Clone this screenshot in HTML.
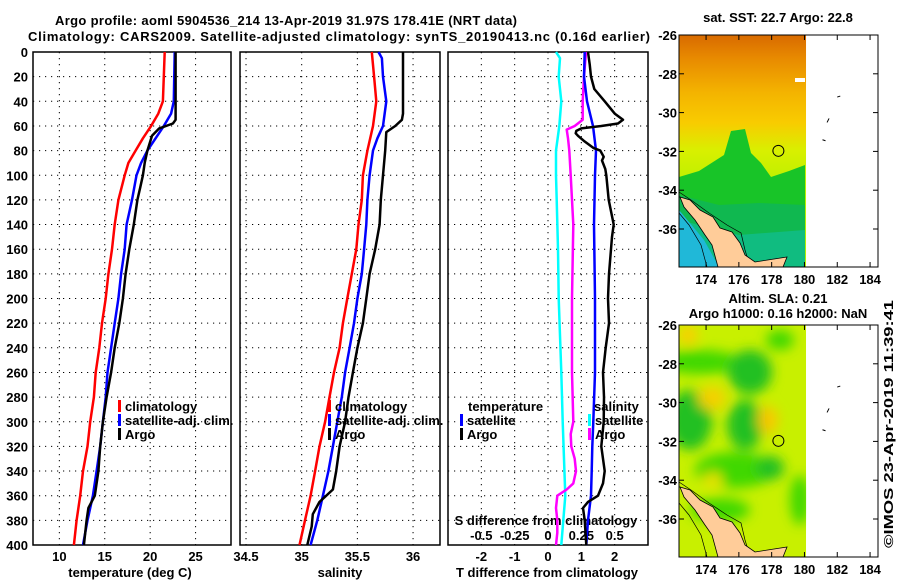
<!DOCTYPE html>
<html><head><meta charset="utf-8"><style>
html,body{margin:0;padding:0;background:#fff}
svg{display:block;font-family:"Liberation Sans",Arial,sans-serif;font-weight:bold}
text{font-size:13px;fill:#000}
</style></head><body>
<svg id="s" width="900" height="580" viewBox="0 0 900 580" xmlns="http://www.w3.org/2000/svg">
<text x="286" y="25" text-anchor="middle" textLength="462">Argo profile: aoml 5904536_214 13-Apr-2019 31.97S 178.41E (NRT data)</text>
<text x="339" y="41" text-anchor="middle" textLength="622">Climatology: CARS2009. Satellite-adjusted climatology: synTS_20190413.nc (0.16d earlier)</text>
<g id="p1"></g>
<g id="p2"></g>
<g id="p3"></g>
<g id="m1"></g>
<g id="m2"></g>
<text x="0" y="0" transform="translate(893,424) rotate(-90)" text-anchor="middle" textLength="248" lengthAdjust="spacingAndGlyphs">©IMOS 23-Apr-2019 11:39:41</text>
</svg>
<script>
// ---- data ----
const depthTicks=[0,20,40,60,80,100,120,140,160,180,200,220,240,260,280,300,320,340,360,380,400];
const tTicks=[10,15,20,25];
const sTicks=[34.5,35,35.5,36];
const sTickLabels=["34.5","35","35.5","36"];
const dTicks=[-2,-1,0,1,2];
const sdTicks=[-0.5,-0.25,0,0.25,0.5];
const sdTickLabels=["-0.5","-0.25","0","0.25","0.5"];

const tClimDepth=[0,40,50,60,70,80,90,100,120,140,160,180,200,220,240,260,280,300,320,340,360,380,400];
const tClim=[21.6,21.4,20.9,20.1,19.2,18.4,17.6,17.2,16.5,16.1,15.8,15.4,15.1,14.7,14.4,14.0,13.8,13.4,13.1,12.6,12.3,11.9,11.6];
const tSatDepth=[0,40,50,60,70,80,90,100,120,140,160,180,200,220,240,260,280,300,320,340,360,380,400];
const tSat=[22.7,22.6,22.3,21.5,20.6,19.7,19.0,18.5,18.0,17.4,17.2,16.8,16.5,16.1,15.7,15.3,15.1,14.8,14.5,14.1,13.7,13.1,12.6];
const tArgoDepth=[0,55,58,62,68,80,90,100,110,120,140,160,180,200,220,240,260,280,300,320,340,360,370,380,400];
const tArgo=[22.8,22.8,22.5,21.0,20.2,19.7,19.4,19.2,18.9,18.6,18.2,17.7,17.3,17.0,16.6,16.1,15.7,15.2,14.8,14.5,14.3,13.9,13.2,13.0,12.7];

const sClimDepth=[0,20,40,60,80,100,120,140,160,180,200,220,240,260,280,300,320,340,360,380,400];
const sClim=[35.63,35.65,35.67,35.64,35.59,35.55,35.54,35.51,35.49,35.45,35.41,35.37,35.34,35.29,35.25,35.21,35.16,35.12,35.08,35.03,34.98];
const sSatDepth=[0,5,20,40,60,70,80,100,120,140,160,180,200,220,240,260,280,300,320,340,360,380,400];
const sSat=[35.69,35.72,35.73,35.76,35.73,35.68,35.64,35.61,35.59,35.58,35.56,35.54,35.50,35.47,35.43,35.39,35.36,35.32,35.28,35.24,35.19,35.14,35.08];
const sArgoDepth=[0,50,55,60,65,80,100,120,140,160,180,200,220,240,260,280,300,320,340,355,365,375,385,400];
const sArgo=[35.91,35.91,35.90,35.84,35.76,35.75,35.73,35.71,35.70,35.66,35.61,35.58,35.55,35.50,35.46,35.42,35.39,35.34,35.31,35.28,35.16,35.10,35.09,35.05];

const dtSatDepth=[0,20,40,60,80,100,140,200,260,300,320,340,360,380,400];
const dtSat=[1.10,1.08,1.17,1.35,1.44,1.41,1.38,1.41,1.41,1.36,1.33,1.31,1.29,1.20,1.15];
const dtArgoDepth=[0,10,20,30,40,50,55,58,60,62,64,66,68,72,78,80,85,88,95,100,120,140,150,160,180,200,220,240,260,280,300,320,340,350,360,365,370,380,400];
const dtArgo=[1.2,1.25,1.29,1.39,1.7,2.0,2.25,2.1,1.6,1.0,0.85,0.83,0.9,1.07,1.37,1.57,1.67,1.62,1.72,1.75,1.82,1.97,1.92,1.89,1.83,1.8,1.83,1.73,1.65,1.68,1.67,1.6,1.7,1.65,1.5,1.2,1.05,1.1,1.15];
const dsSatDepth=[0,5,20,40,60,80,100,120,160,200,260,300,360,400];
const dsSat=[0.06,0.09,0.08,0.10,0.085,0.06,0.06,0.065,0.075,0.08,0.10,0.11,0.13,0.10];
const dsArgoDepth=[0,20,40,55,60,63,70,80,100,120,140,200,260,300,310,320,330,340,350,355,360,370,380,390,400];
const dsArgo=[0.285,0.27,0.26,0.26,0.2,0.14,0.15,0.16,0.17,0.18,0.19,0.18,0.18,0.19,0.17,0.175,0.2,0.21,0.19,0.14,0.07,0.06,0.07,0.07,0.06];

const mapLatTicks=[-26,-28,-30,-32,-34,-36];
const mapLatLabels=["-26","-28","-30","-32","-34","-36"];
const mapLonTicks=[174,176,178,180,182,184];
const argoLon=178.41, argoLat=-31.97;

// ---- helpers ----
const NS="http://www.w3.org/2000/svg";
function mk(parent,tag,attrs,txt){const e=document.createElementNS(NS,tag);for(const k in attrs)e.setAttribute(k,attrs[k]);if(txt!==undefined)e.textContent=txt;parent.appendChild(e);return e;}
const Y0=52,Y1=545;
const yD=d=>Y0+(d/400)*(Y1-Y0);

function panel(g,x0,x1,vmin,vmax,vticks){
  const xs=v=>x0+(v-vmin)/(vmax-vmin)*(x1-x0);
  depthTicks.forEach(d=>{if(d>0&&d<400){const l=mk(g,'line',{x1:x0,x2:x1,y1:yD(d),y2:yD(d),stroke:'#000','stroke-width':1,'stroke-dasharray':'1.2,4.8'});
  
  }});
  vticks.forEach(v=>{const l=mk(g,'line',{x1:xs(v),x2:xs(v),y1:Y0,y2:Y1,stroke:'#000','stroke-width':1,'stroke-dasharray':'1.2,4.8'});
  
  });
  const r=mk(g,'rect',{x:x0,y:Y0,width:x1-x0,height:Y1-Y0,fill:'none',stroke:'#000','stroke-width':1.5});
  
  
  return xs;
}
function line(g,xs,depths,vals,color,name,w){
  const d=vals.map((v,i)=>(i?'L':'M')+xs(v).toFixed(1)+','+yD(depths[i]).toFixed(1)).join('');
  const p=mk(g,'path',{d:d,fill:'none',stroke:color,'stroke-width':w||2.5,'stroke-linejoin':'round'});
  
  
}
function txt(g,x,y,s,anchor,name){const t=mk(g,'text',{x:x,y:y,'text-anchor':anchor||'middle'},s);
  
  return t;}
function legbar(g,x,y,color){const r=mk(g,'rect',{x:x,y:y-11,width:3,height:12,fill:color});
  
  }

// panel 1
const g1=document.getElementById('p1');
const xT=panel(g1,33,231,7.1,28.9,tTicks);
depthTicks.forEach(d=>txt(g1,28,yD(d)+5,String(d),'end','depth-tick-label'));
tTicks.forEach(v=>txt(g1,xT(v),561,String(v),'middle','temp-tick-label'));
txt(g1,130,577,'temperature (deg C)','middle','x-axis-title-temperature');
line(g1,xT,tClimDepth,tClim,'#f00','temp-climatology-line');
line(g1,xT,tSatDepth,tSat,'#00f','temp-satellite-line');
line(g1,xT,tArgoDepth,tArgo,'#000','temp-argo-line');
legbar(g1,118,411,'#f00');txt(g1,125,411,'climatology','start','legend-climatology');
legbar(g1,118,425,'#00f');txt(g1,125,425,'satellite-adj. clim.','start','legend-satellite');
legbar(g1,118,439,'#000');txt(g1,125,439,'Argo','start','legend-argo');

// panel 2
const g2=document.getElementById('p2');
const xS=panel(g2,240,440,34.446,36.242,sTicks);
sTicks.forEach((v,i)=>txt(g2,xS(v),561,sTickLabels[i],'middle','salinity-tick-label'));
txt(g2,340,577,'salinity','middle','x-axis-title-salinity');
line(g2,xS,sClimDepth,sClim,'#f00','sal-climatology-line');
line(g2,xS,sSatDepth,sSat,'#00f','sal-satellite-line');
line(g2,xS,sArgoDepth,sArgo,'#000','sal-argo-line');
legbar(g2,328,411,'#f00');txt(g2,335,411,'climatology','start','legend-climatology');
legbar(g2,328,425,'#00f');txt(g2,335,425,'satellite-adj. clim.','start','legend-satellite');
legbar(g2,328,439,'#000');txt(g2,335,439,'Argo','start','legend-argo');

// panel 3
const g3=document.getElementById('p3');
const xDT=panel(g3,448,648,-3,3,dTicks);
const xDS=v=>448+(v+0.75)/1.5*200;
dTicks.forEach(v=>txt(g3,xDT(v),561,String(v),'middle','tdiff-tick-label'));
txt(g3,547,577,'T difference from climatology','middle','x-axis-title-tdiff');
txt(g3,546,525,'S difference from climatology','middle','s-axis-title');
sdTicks.forEach((v,i)=>txt(g3,xDS(v),540,sdTickLabels[i],'middle','sdiff-tick-label'));
line(g3,xDS,dsSatDepth,dsSat,'#0ff','sdiff-satellite-line');
line(g3,xDS,dsArgoDepth,dsArgo,'#f0f','sdiff-argo-line');
line(g3,xDT,dtSatDepth,dtSat,'#00f','tdiff-satellite-line');
line(g3,xDT,dtArgoDepth,dtArgo,'#000','tdiff-argo-line');
txt(g3,468,411,'temperature','start','legend-temperature-heading');
legbar(g3,460,425,'#00f');txt(g3,467,425,'satellite','start','legend-t-satellite');
legbar(g3,460,439,'#000');txt(g3,467,439,'Argo','start','legend-t-argo');
txt(g3,594,411,'salinity','start','legend-salinity-heading');
legbar(g3,588,425,'#0ff');txt(g3,595,425,'satellite','start','legend-s-satellite');
legbar(g3,588,439,'#f0f');txt(g3,595,439,'Argo','start','legend-s-argo');

// maps
function map(g,top,kind){
  const L=679,R=878,bot=top+232;
  const lx=v=>L+(v-172.35)*16.4;
  const ly=v=>top+(-26-v)*19.4;
  const id='clip'+kind;
  const defs=mk(g,'defs',{});
  const cp=mk(defs,'clipPath',{id:id});mk(cp,'rect',{x:L,y:top,width:lx(180.1)-L,height:bot-top});
  const bl=mk(defs,'filter',{id:'bl'+kind,x:'-50%',y:'-50%',width:'200%',height:'200%'});mk(bl,'feGaussianBlur',{stdDeviation:6});
  const f=mk(g,'g',{'clip-path':'url(#'+id+')'});
  
  
  const W=lx(180.1)-L;
  if(kind==='sst'){
    const lg=mk(defs,'linearGradient',{id:'gs',x1:0,y1:0,x2:0,y2:1});
    [[0,'#d86a00'],[0.1,'#e88a00'],[0.25,'#f4b400'],[0.38,'#f8cc00'],[0.5,'#d8f000'],[0.62,'#c0f000'],[1,'#b0f000']].forEach(s=>mk(lg,'stop',{offset:s[0],'stop-color':s[1]}));
    mk(f,'rect',{x:L,y:top,width:W,height:bot-top,fill:'url(#gs)'});
    mk(f,'path',{d:`M${L},${top+142} L${L+20},${top+136} L${L+45},${top+120} L${L+52},${top+96} L${L+66},${top+94} L${L+72},${top+118} L${L+82},${top+128} L${L+92},${top+142} L${L+110},${top+136} L${L+126},${top+130} L${L+126},${bot} L${L},${bot} Z`,fill:'#18c428'});
    mk(f,'path',{d:`M${L},${top+160} L${L+40},${top+170} L${L+80},${top+168} L${L+126},${top+170} L${L+126},${bot} L${L},${bot} Z`,fill:'#10b850'});
    mk(f,'path',{d:`M${L},${top+185} L${L+60},${top+200} L${L+126},${top+195} L${L+126},${bot} L${L},${bot} Z`,fill:'#10bc80'});
    mk(f,'path',{d:`M${L},${top+175} L${L+25},${top+205} L${L+40},${bot} L${L},${bot} Z`,fill:'#20b8d8'});
    mk(f,'rect',{x:L+116,y:top+43,width:10,height:4,fill:'#fff'});
  }else{
    mk(f,'rect',{x:L,y:top,width:W,height:bot-top,fill:'#c8f000'});
    const g2=mk(f,'g',{filter:'url(#bl'+kind+')'});
    [[700,362,40,12,'#40d800'],[750,372,22,22,'#20c020'],[690,420,22,30,'#20c020'],[745,425,18,25,'#20c020'],[735,470,40,18,'#40d800'],[770,468,14,12,'#20c020'],[800,500,10,25,'#40d800'],[720,510,30,12,'#40d800'],[780,340,14,10,'#40d800']].forEach(b=>mk(g2,'ellipse',{cx:b[0],cy:b[1]-325+top,rx:b[2],ry:b[3],fill:b[4]}));
    [[688,335,10,10,'#f8d000'],[712,398,14,12,'#f4d000'],[768,420,10,14,'#f8c800'],[713,480,10,8,'#e8e000']].forEach(b=>mk(g2,'ellipse',{cx:b[0],cy:b[1]-325+top,rx:b[2],ry:b[3],fill:b[4]}));
  }
  // coastal contours
  mk(f,'path',{d:`M${L},${top+157} L${L+12},${top+165} L${L+30},${top+178} L${L+48},${top+190} L${L+62},${top+198} L${L+66},${top+215} L${L+70},${top+228}`,fill:'none',stroke:'#000','stroke-width':0.7});
  mk(f,'path',{d:`M${L},${top+178} L${L+10},${top+190} L${L+22},${top+210} L${L+28},${bot}`,fill:'none',stroke:'#000','stroke-width':0.7});
  // land
  const land=mk(f,'path',{d:`M${L+1},${top+162} L${L+11},${top+165} L${L+21},${top+175} L${L+34},${top+182} L${L+41},${top+193} L${L+53},${top+197} L${L+61},${top+208} L${L+66},${top+220} L${L+76},${top+227} L${L+108},${top+222} L${L+104},${bot} L${L+39},${bot} L${L+33},${top+210} L${L+26},${top+200} L${L+16},${top+185} L${L+5},${top+172} Z`,fill:'#ffcc99',stroke:'#000','stroke-width':0.8});
  
  
  // islands
  mk(g,'path',{d:`M${lx(182.0)},${ly(-29.2)} l3,-1 M${lx(181.5)},${ly(-30.3)} l-2,4 M${lx(181.1)},${ly(-31.4)} l3,1`,stroke:'#000','stroke-width':1,fill:'none'});
  const c=mk(g,'circle',{cx:lx(argoLon),cy:ly(argoLat),r:5.5,fill:'none',stroke:'#000','stroke-width':1});
  
  
  const fr=mk(g,'rect',{x:L,y:top,width:R-L,height:bot-top,fill:'none',stroke:'#000','stroke-width':1});
  
  
  mapLatTicks.forEach((v,i)=>{mk(g,'line',{x1:L,x2:L+5,y1:ly(v),y2:ly(v),stroke:'#000'});mk(g,'line',{x1:R-5,x2:R,y1:ly(v),y2:ly(v),stroke:'#000'});
    txt(g,677,ly(v)+5,mapLatLabels[i],'end','map-lat-label');});
  mapLonTicks.forEach(v=>{mk(g,'line',{x1:lx(v),x2:lx(v),y1:bot,y2:bot-5,stroke:'#000'});mk(g,'line',{x1:lx(v),x2:lx(v),y1:top,y2:top+5,stroke:'#000'});
    txt(g,lx(v),bot+17,String(v),'middle','map-lon-label');});
}
const m1=document.getElementById('m1');
txt(m1,778,22,'sat. SST: 22.7 Argo: 22.8','middle','sst-map-title');
map(m1,35,'sst');
const m2=document.getElementById('m2');
txt(m2,778,303,'Altim. SLA: 0.21','middle','sla-map-title');
txt(m2,778,318,'Argo h1000: 0.16 h2000: NaN','middle','sla-map-subtitle');
map(m2,325,'sla');
</script>
</body></html>
